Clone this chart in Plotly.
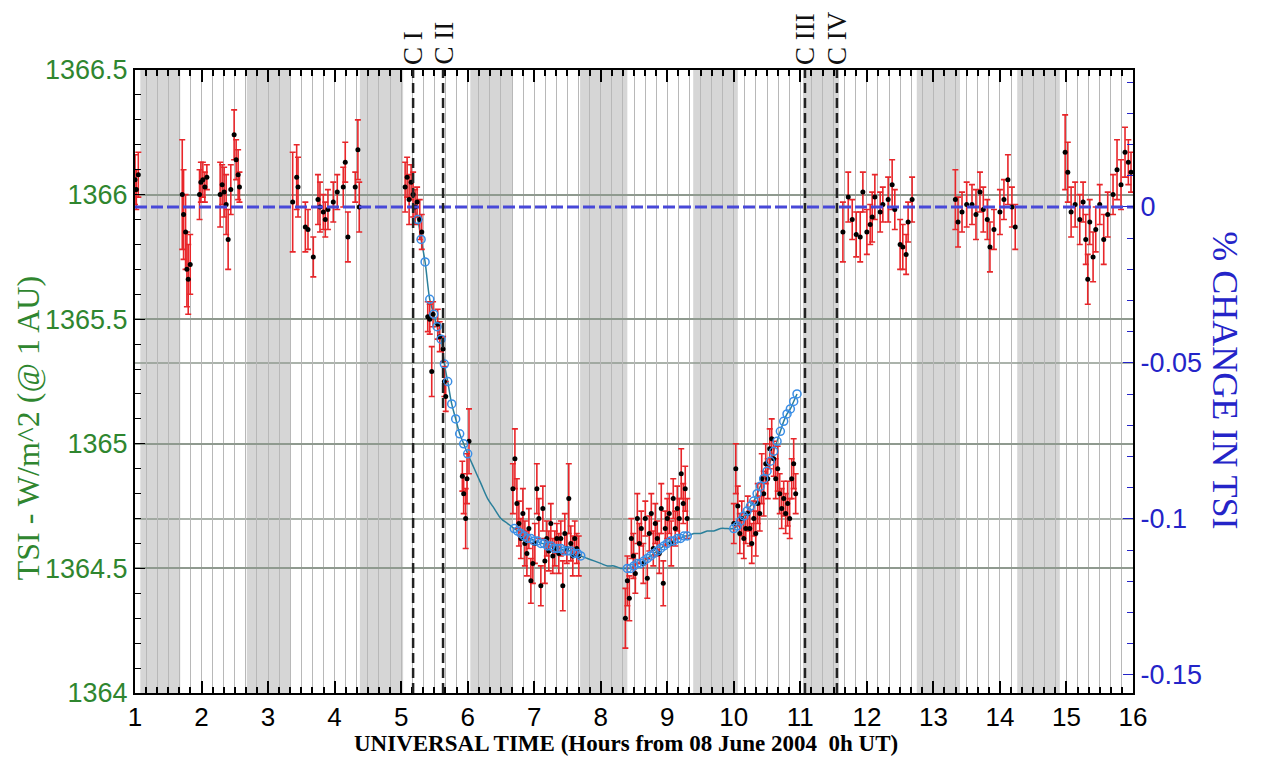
import plotly.graph_objects as go

# ---------------- data ----------------
# Measured TSI (hours UT, W/m^2, 1-sigma error)
obs_t = [1.00, 1.02, 1.05,
         1.71, 1.73, 1.76, 1.78, 1.80, 1.83, 1.97, 1.99, 2.02, 2.05, 2.08,
         2.28, 2.31, 2.34, 2.37, 2.40, 2.44, 2.49, 2.52, 2.55, 2.57,
         3.37, 3.43, 3.45, 3.56, 3.60, 3.68, 3.75, 3.78, 3.83, 3.86, 3.90, 3.98,
         4.04, 4.13, 4.16, 4.20, 4.31, 4.35, 4.37,
         5.06, 5.09, 5.12, 5.15, 5.18, 5.21, 5.24, 5.28, 5.31, 5.40, 5.43, 5.46,
         5.48, 5.55, 5.58, 5.63, 5.65, 5.67,
         5.92, 5.94, 5.97, 5.99, 6.02,
         6.68, 6.71, 6.74, 6.77, 6.80, 6.83, 6.86, 6.89, 6.92, 6.95, 6.98, 7.01,
         7.04, 7.07, 7.10, 7.13, 7.16, 7.19, 7.22, 7.25, 7.28, 7.31, 7.34, 7.37,
         7.40, 7.43, 7.46, 7.49, 7.52, 7.55, 7.58, 7.61, 7.64, 7.67,
         8.37, 8.40, 8.43, 8.46, 8.49, 8.52, 8.55, 8.58, 8.61, 8.64, 8.67, 8.70,
         8.73, 8.76, 8.79, 8.82, 8.85, 8.88, 8.91, 8.94, 8.97, 9.00, 9.03, 9.06,
         9.09, 9.12, 9.15, 9.18, 9.21, 9.24, 9.27, 9.30,
         10.00, 10.03, 10.06, 10.09, 10.12, 10.15, 10.18, 10.21, 10.24, 10.27,
         10.30, 10.33, 10.36, 10.39, 10.42, 10.45, 10.48, 10.51, 10.54, 10.57,
         10.60, 10.63, 10.66, 10.69, 10.72, 10.75, 10.78, 10.81, 10.84, 10.87,
         10.90, 10.93,
         11.64, 11.72, 11.78, 11.84, 11.90, 11.94, 12.00, 12.05, 12.08, 12.12,
         12.20, 12.24, 12.32, 12.38, 12.42, 12.50, 12.54, 12.59, 12.62, 12.68,
         13.33, 13.37, 13.43, 13.50, 13.58, 13.64, 13.70, 13.75, 13.81, 13.85,
         13.91, 14.00, 14.06, 14.12, 14.18, 14.23,
         14.98, 15.02, 15.07, 15.13, 15.20, 15.25, 15.29, 15.32, 15.35, 15.40,
         15.44, 15.50, 15.56, 15.62, 15.70, 15.76, 15.82, 15.88, 15.93, 15.97]
obs_tsi = [1366.06, 1366.02, 1366.08,
           1366.00, 1365.92, 1365.85, 1365.70, 1365.66, 1365.72, 1366.00, 1366.05, 1366.06, 1366.03, 1366.07,
           1366.00, 1366.04, 1366.01, 1365.96, 1365.82, 1366.02, 1366.24, 1366.14, 1366.08, 1366.03,
           1365.97, 1366.07, 1366.03, 1365.87, 1365.86, 1365.75, 1365.98, 1365.95, 1365.93, 1365.90, 1365.94, 1365.97,
           1366.01, 1366.03, 1366.13, 1365.83, 1366.03, 1366.18, 1365.95,
           1366.03, 1366.07, 1365.98, 1366.05, 1366.00, 1365.95, 1365.97, 1365.90, 1365.85, 1365.51, 1365.50, 1365.29,
           1365.52, 1365.48, 1365.43, 1365.38, 1365.25, 1365.19,
           1364.87, 1364.80, 1364.70, 1364.86, 1365.01,
           1364.82, 1364.94, 1364.76, 1364.68, 1364.62, 1364.72, 1364.60, 1364.56, 1364.66, 1364.45, 1364.52, 1364.60,
           1364.82, 1364.70, 1364.43, 1364.74, 1364.53, 1364.62, 1364.57, 1364.68, 1364.55, 1364.58, 1364.62, 1364.56,
           1364.62, 1364.43, 1364.64, 1364.58, 1364.78, 1364.60, 1364.55, 1364.62, 1364.58, 1364.55,
           1364.30, 1364.45, 1364.38, 1364.62, 1364.55, 1364.48, 1364.70, 1364.60, 1364.66, 1364.52, 1364.70, 1364.46,
           1364.64, 1364.72, 1364.58, 1364.68, 1364.62, 1364.56, 1364.74, 1364.44, 1364.66, 1364.70, 1364.72, 1364.60,
           1364.78, 1364.66, 1364.74, 1364.70, 1364.88, 1364.76, 1364.82, 1364.70,
           1364.68, 1364.90, 1364.75, 1364.64, 1364.70, 1364.62, 1364.66, 1364.72, 1364.66, 1364.60,
           1364.70, 1364.64, 1364.76, 1364.72, 1364.86, 1364.80, 1364.92, 1364.86, 1364.98, 1365.02,
           1364.94, 1364.86, 1364.90, 1364.80, 1364.74, 1364.78, 1364.72, 1364.76, 1364.70, 1364.86,
           1364.92, 1364.80,
           1365.85, 1365.99, 1365.90, 1365.84, 1365.83, 1366.01, 1365.85, 1365.88, 1365.91, 1365.99,
           1365.93, 1365.96, 1365.98, 1366.04, 1365.94, 1365.80, 1365.79, 1365.76, 1365.89, 1365.98,
           1365.98, 1365.89, 1365.93, 1365.96, 1365.96, 1365.92, 1366.01, 1365.94, 1365.90, 1365.79,
           1365.86, 1365.93, 1365.98, 1366.06, 1365.95, 1365.87,
           1366.17, 1366.09, 1365.93, 1365.96, 1365.90, 1365.97, 1365.82, 1365.66, 1365.89, 1365.75,
           1365.86, 1365.96, 1365.82, 1365.92, 1366.00, 1366.10, 1366.04, 1366.17, 1366.13, 1366.09]
obs_err = [0.10, 0.08, 0.09,
           0.22, 0.18, 0.15, 0.15, 0.14, 0.12, 0.10, 0.08, 0.07, 0.06, 0.05,
           0.13, 0.08, 0.10, 0.12, 0.12, 0.10, 0.10, 0.08, 0.10, 0.06,
           0.20, 0.13, 0.12, 0.10, 0.08, 0.08, 0.10, 0.10, 0.07, 0.07, 0.08, 0.08,
           0.07, 0.08, 0.08, 0.10, 0.06, 0.12, 0.10,
           0.10, 0.08, 0.10, 0.07, 0.09, 0.07, 0.06, 0.08, 0.07, 0.06, 0.06, 0.10,
           0.05, 0.06, 0.06, 0.05, 0.06, 0.06,
           0.06, 0.08, 0.12, 0.10, 0.13,
           0.10, 0.12, 0.10, 0.09, 0.08, 0.10, 0.09, 0.09, 0.08, 0.09, 0.08, 0.08,
           0.10, 0.08, 0.08, 0.09, 0.09, 0.07, 0.08, 0.08, 0.07, 0.07, 0.06, 0.08,
           0.07, 0.10, 0.08, 0.06, 0.14, 0.07, 0.08, 0.07, 0.06, 0.08,
           0.12, 0.10, 0.09, 0.08, 0.09, 0.08, 0.10, 0.08, 0.07, 0.08, 0.07, 0.08,
           0.07, 0.08, 0.07, 0.08, 0.07, 0.08, 0.10, 0.09, 0.07, 0.08, 0.08, 0.09,
           0.08, 0.07, 0.09, 0.08, 0.10, 0.08, 0.09, 0.08,
           0.08, 0.10, 0.08, 0.08, 0.07, 0.08, 0.06, 0.07, 0.07, 0.08,
           0.07, 0.09, 0.08, 0.07, 0.10, 0.09, 0.08, 0.08, 0.08, 0.08,
           0.07, 0.08, 0.09, 0.08, 0.08, 0.07, 0.08, 0.09, 0.08, 0.08,
           0.10, 0.08,
           0.12, 0.10, 0.08, 0.09, 0.10, 0.08, 0.09, 0.08, 0.10, 0.09,
           0.08, 0.07, 0.09, 0.10, 0.08, 0.10, 0.09, 0.08, 0.08, 0.09,
           0.12, 0.10, 0.08, 0.09, 0.08, 0.10, 0.08, 0.09, 0.08, 0.10,
           0.08, 0.09, 0.08, 0.10, 0.08, 0.09,
           0.15, 0.12, 0.10, 0.09, 0.10, 0.08, 0.10, 0.10, 0.09, 0.10,
           0.09, 0.08, 0.10, 0.09, 0.08, 0.12, 0.10, 0.10, 0.09, 0.08]

# Transit model (open circles)
model_t = [5.25, 5.30, 5.36, 5.43, 5.49, 5.54, 5.60, 5.65, 5.70, 5.76, 5.82, 5.88, 5.94, 6.00,
           6.70, 6.75, 6.80, 6.85, 6.90, 6.95, 7.00, 7.05, 7.10, 7.15, 7.20, 7.25, 7.30, 7.35,
           7.40, 7.45, 7.50, 7.55, 7.60, 7.65, 7.70,
           8.40, 8.45, 8.50, 8.55, 8.60, 8.65, 8.70, 8.75, 8.80, 8.85, 8.90, 8.95, 9.00, 9.05,
           9.10, 9.15, 9.20, 9.25, 9.30,
           10.00, 10.05, 10.10, 10.15, 10.20, 10.25, 10.30, 10.35, 10.40, 10.45, 10.50, 10.55,
           10.60, 10.65, 10.70, 10.75, 10.80, 10.85, 10.90, 10.95]
model_tsi = [1365.90, 1365.82, 1365.73, 1365.58, 1365.52, 1365.47, 1365.42, 1365.32, 1365.25, 1365.16,
             1365.10, 1365.04, 1365.00, 1364.96,
             1364.66, 1364.65, 1364.64, 1364.63, 1364.62, 1364.62, 1364.61, 1364.61, 1364.60, 1364.60,
             1364.59, 1364.59, 1364.58, 1364.58, 1364.58, 1364.57, 1364.57, 1364.57, 1364.56, 1364.56,
             1364.55,
             1364.50, 1364.50, 1364.51, 1364.52, 1364.52, 1364.53, 1364.54, 1364.55, 1364.56, 1364.57,
             1364.58, 1364.59, 1364.60, 1364.61, 1364.61, 1364.62, 1364.62, 1364.63, 1364.63,
             1364.66, 1364.67, 1364.69, 1364.71, 1364.73, 1364.75, 1364.77, 1364.80, 1364.83, 1364.86,
             1364.89, 1364.93, 1364.97, 1365.01, 1365.05, 1365.09, 1365.12, 1365.14, 1365.17, 1365.20]
# model curve through the data gaps
gap_t = [5.18, 6.10, 6.20, 6.30, 6.40, 6.50, 6.60, 7.80, 7.90, 8.00, 8.10, 8.20, 8.30,
         9.40, 9.50, 9.60, 9.70, 9.80, 9.90]
gap_tsi = [1365.96, 1364.90, 1364.84, 1364.78, 1364.74, 1364.70, 1364.68, 1364.54, 1364.53, 1364.52,
           1364.51, 1364.51, 1364.50, 1364.64, 1364.64, 1364.65, 1364.65, 1364.66, 1364.66]

# Spacecraft night (shaded) intervals, hours UT
band_start = [1.08, 2.68, 4.38, 6.04, 7.69, 9.39, 11.04, 12.75, 14.26]
band_end = [1.68, 3.33, 5.03, 6.68, 8.40, 10.06, 11.58, 13.40, 14.90]

# Contacts
contact_t = [5.18, 5.63, 11.07, 11.55]
contact_lbl = ["C I", "C II", "C III", "C IV"]

x_ticks = list(range(1, 17))
y_ticks = [1364, 1364.5, 1365, 1365.5, 1366, 1366.5]
y_ticktext = ["1364", "1364.5", "1365", "1365.5", "1366", "1366.5"]
y2_ticks = [0, -0.05, -0.1, -0.15]
y2_ticktext = ["0", "-0.05", "-0.1", "-0.15"]
y2_grid = [-0.05, -0.1]
zero_pct = 0.0

# ---------------- figure ----------------
SERIF = "Liberation Serif, Times New Roman, serif"
SANS = "Liberation Sans, Arial, sans-serif"
GREEN = "#2f862f"
BLUE = "#2424c8"
GRID = "#8f9a8f"

fig = go.Figure()

line_pts = sorted(zip(model_t + gap_t, model_tsi + gap_tsi))
fig.add_trace(go.Scatter(x=[p[0] for p in line_pts], y=[p[1] for p in line_pts],
                         mode="lines", line=dict(color="#2a7f9a", width=1.5, shape="spline"),
                         hoverinfo="skip", showlegend=False))

fig.add_trace(go.Scatter(x=obs_t, y=obs_tsi, mode="markers",
                         marker=dict(color="black", size=5),
                         error_y=dict(type="data", array=obs_err, color="#e8262a",
                                      thickness=1.6, width=3),
                         showlegend=False))

fig.add_trace(go.Scatter(x=model_t, y=model_tsi, mode="markers",
                         marker=dict(symbol="circle-open", color="#3a8ee6", size=8,
                                     line=dict(width=1.5)),
                         showlegend=False))

# 0 % reference line on the right axis
fig.add_trace(go.Scatter(x=[x_ticks[0], x_ticks[-1]], y=[zero_pct, zero_pct], yaxis="y2",
                         mode="lines", line=dict(color="#4848d8", width=3, dash="12px,4px"),
                         hoverinfo="skip", showlegend=False))

shapes = []
for s, e in zip(band_start, band_end):
    shapes.append(dict(type="rect", xref="x", yref="paper", x0=s, x1=e, y0=0, y1=1,
                       fillcolor="#d6d6d6", line=dict(width=0), layer="below"))
for g in y2_grid:
    shapes.append(dict(type="line", xref="paper", yref="y2", x0=0, x1=1, y0=g, y1=g,
                       line=dict(color=GRID, width=1.5), layer="below"))
for c in contact_t:
    shapes.append(dict(type="line", xref="x", yref="paper", x0=c, x1=c, y0=0, y1=1,
                       line=dict(color="#222222", width=2.5, dash="10px,5px"), layer="above"))
fig.update_layout(shapes=shapes)

annotations = []
for c, lbl in zip(contact_t, contact_lbl):
    annotations.append(dict(x=c, y=1, xref="x", yref="paper", text=lbl, showarrow=False,
                            textangle=-90, yanchor="bottom", xanchor="center", yshift=3,
                            font=dict(family=SERIF, size=27, color="#111111")))
annotations.append(dict(x=0, y=0.425, xref="paper", yref="paper", xshift=-107,
                        text="TSI - W/m^2 (@ 1 AU)", showarrow=False, textangle=-90,
                        xanchor="center", yanchor="middle",
                        font=dict(family=SERIF, size=32, color=GREEN)))
annotations.append(dict(x=1, y=0.502, xref="paper", yref="paper", xshift=92,
                        text="% CHANGE IN TSI", showarrow=False, textangle=90,
                        xanchor="center", yanchor="middle",
                        font=dict(family=SERIF, size=36, color=BLUE)))
annotations.append(dict(x=0.492, y=0, xref="paper", yref="paper", yshift=-50,
                        text="<b>UNIVERSAL TIME (Hours from 08 June 2004  0h UT)</b>",
                        showarrow=False, xanchor="center", yanchor="middle",
                        font=dict(family=SERIF, size=23, color="black")))
fig.update_layout(annotations=annotations)

fig.update_layout(
    width=1253, height=750,
    margin=dict(l=127, r=128, t=62, b=65),
    paper_bgcolor="white", plot_bgcolor="white",
    xaxis=dict(range=[1, 16], tickvals=x_ticks, ticks="inside", ticklen=12, tickwidth=1.5,
               tickcolor="black", showline=True, linecolor="black", linewidth=2, mirror="ticks",
               showgrid=False, zeroline=False,
               tickfont=dict(family=SANS, size=26, color="black"),
               minor=dict(dtick=1 / 6, tick0=1, ticks="inside", ticklen=6, tickcolor="black",
                          showgrid=True, gridcolor="#b8b8b8", gridwidth=1.2)),
    yaxis=dict(range=[1364, 1366.5], tickvals=y_ticks, ticktext=y_ticktext, ticks="inside",
               ticklen=10, tickcolor="black", showline=True, linecolor="black", linewidth=2,
               showgrid=True, gridcolor=GRID, gridwidth=1.5, zeroline=False,
               tickfont=dict(family=SANS, size=27, color=GREEN),
               minor=dict(dtick=0.1, ticks="inside", ticklen=6, tickcolor="black", showgrid=False)),
    yaxis2=dict(range=[-0.1558, 0.0439], overlaying="y", side="right",
                tickvals=y2_ticks, ticktext=y2_ticktext, ticks="inside", ticklen=10,
                tickcolor=BLUE, showline=True, linecolor="black", linewidth=2,
                showgrid=False, zeroline=False,
                tickfont=dict(family=SANS, size=27, color=BLUE),
                minor=dict(dtick=0.01, tick0=0, ticks="inside", ticklen=6, tickcolor=BLUE,
                           showgrid=False)),
)

fig.write_html("out.html")
